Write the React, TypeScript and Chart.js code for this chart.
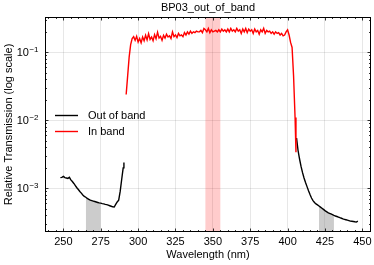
import React, { useEffect, useRef } from "react";
import { Chart, registerables } from "chart.js";

Chart.register(...registerables);

const TITLE = "BP03_out_of_band";
const X_LABEL = "Wavelength (nm)";
const Y_LABEL = "Relative Transmission (log scale)";
const LEGEND_LABELS = ["Out of band", "In band"];

const X_TICKS = [250, 275, 300, 325, 350, 375, 400, 425, 450];
const Y_TICKS = [1e-3, 1e-2, 1e-1];
const Y_TICK_EXPONENTS = ["\u22123", "\u22122", "\u22121"];
const X_MIN = 237.7;
const X_MAX = 455.8;
const Y_MIN = 2.28e-4;
const Y_MAX = 0.331;

const IN_BAND_SPAN = [345, 355];
const SHADED_RANGES = [
  [265, 275],
  [421, 431],
];

// Out of band, short-wavelength side
const OUT_LEFT_NM = [
  248, 249, 250, 251, 252, 253, 254, 255, 256, 257, 258, 259, 260, 261, 262, 263, 264, 265, 266, 267,
  268, 269, 270, 271, 272, 273, 274, 275, 276, 277, 278, 279, 280, 281, 282, 283, 284, 285, 286, 287,
  288, 289, 290, 290.5,
];
const OUT_LEFT_T = [
  1.44e-3, 1.45e-3, 1.5e-3, 1.44e-3, 1.42e-3, 1.4e-3, 1.45e-3, 1.33e-3, 1.26e-3, 1.18e-3, 1.1e-3,
  1.02e-3, 9.6e-4, 9.0e-4, 8.5e-4, 8.0e-4, 7.6e-4, 7.4e-4, 7.1e-4, 6.9e-4, 6.7e-4, 6.6e-4, 6.5e-4,
  6.4e-4, 6.3e-4, 6.2e-4, 6.1e-4, 6.05e-4, 5.95e-4, 5.9e-4, 5.8e-4, 5.75e-4, 5.65e-4, 5.55e-4,
  5.45e-4, 5.35e-4, 5.3e-4, 5.8e-4, 6.3e-4, 6.7e-4, 9.0e-4, 1.35e-3, 2.0e-3, 2.4e-3,
];

// Out of band, long-wavelength side
const OUT_RIGHT_NM = [
  406, 407, 408, 409, 410, 411, 412, 413, 414, 415, 416, 417, 418, 419, 420, 421, 422, 423, 424, 425,
  426, 427, 428, 429, 430, 431, 432, 433, 434, 435, 436, 437, 438, 439, 440, 441, 442, 443, 444, 445,
  446, 447,
];
const OUT_RIGHT_T = [
  5.5e-3, 3.6e-3, 2.7e-3, 2.1e-3, 1.7e-3, 1.42e-3, 1.22e-3, 1.06e-3, 9.2e-4, 8.1e-4, 7.2e-4, 6.6e-4,
  6.2e-4, 5.9e-4, 5.7e-4, 5.5e-4, 5.3e-4, 5.1e-4, 4.9e-4, 4.7e-4, 4.55e-4, 4.4e-4, 4.3e-4, 4.2e-4,
  4.1e-4, 4.0e-4, 3.92e-4, 3.85e-4, 3.78e-4, 3.7e-4, 3.63e-4, 3.55e-4, 3.5e-4, 3.45e-4, 3.4e-4,
  3.35e-4, 3.3e-4, 3.28e-4, 3.25e-4, 3.22e-4, 3.2e-4, 3.3e-4,
];

// In band
const IN_NM = [
  292, 293, 294, 295, 296, 297, 298, 299, 300, 301, 302, 303, 304, 305, 306, 307, 308, 309, 310, 311,
  312, 313, 314, 315, 316, 317, 318, 319, 320, 321, 322, 323, 324, 325, 326, 327, 328, 329, 330, 331,
  332, 333, 334, 335, 336, 337, 338, 339, 340, 341, 342, 343, 344, 345, 346, 347, 348, 349, 350, 351,
  352, 353, 354, 355, 356, 357, 358, 359, 360, 361, 362, 363, 364, 365, 366, 367, 368, 369, 370, 371,
  372, 373, 374, 375, 376, 377, 378, 379, 380, 381, 382, 383, 384, 385, 386, 387, 388, 389, 390, 391,
  392, 393, 394, 395, 396, 397, 398, 399, 400, 401, 402, 403, 404, 405, 405.6,
];
const IN_T = [
  0.024, 0.045, 0.085, 0.13, 0.16, 0.17, 0.15, 0.172, 0.142, 0.16, 0.138, 0.168, 0.148, 0.178, 0.152,
  0.188, 0.155, 0.168, 0.148, 0.182, 0.158, 0.198, 0.162, 0.172, 0.15, 0.178, 0.162, 0.185, 0.168,
  0.175, 0.16, 0.2, 0.17, 0.18, 0.165, 0.19, 0.175, 0.18, 0.17, 0.195, 0.18, 0.2, 0.185, 0.205, 0.19,
  0.2, 0.195, 0.205, 0.2, 0.2, 0.21, 0.195, 0.225, 0.215, 0.2, 0.225, 0.195, 0.215, 0.2, 0.205, 0.21,
  0.2, 0.215, 0.2, 0.22, 0.205, 0.215, 0.2, 0.22, 0.2, 0.225, 0.205, 0.215, 0.2, 0.225, 0.205, 0.215,
  0.19, 0.22, 0.2, 0.225, 0.195, 0.22, 0.205, 0.215, 0.19, 0.22, 0.2, 0.21, 0.185, 0.215, 0.2, 0.225,
  0.19, 0.21, 0.2, 0.205, 0.19, 0.2, 0.185, 0.2, 0.19, 0.195, 0.18, 0.19, 0.175, 0.18, 0.2, 0.215,
  0.18, 0.14, 0.118, 0.045, 0.011, 0.0034,
];

const FONT = '"Liberation Sans", Arial, Helvetica, sans-serif';

const toPoints = (xs: number[], ys: number[]) => xs.map((x, i) => ({ x, y: ys[i] }));

const decorPlugin = {
  id: "decor",
  beforeDatasetsDraw(chart: any) {
    const { ctx, chartArea: a, scales } = chart;
    const x = scales.x;
    const x0 = x.getPixelForValue(IN_BAND_SPAN[0]);
    const x1 = x.getPixelForValue(IN_BAND_SPAN[1]);
    ctx.save();
    ctx.fillStyle = "rgba(255,0,0,0.2)";
    ctx.fillRect(x0, a.top, x1 - x0, a.bottom - a.top);
    ctx.restore();
  },
  afterDraw(chart: any) {
    const { ctx, chartArea: a, scales } = chart;
    const xs = scales.x;
    const ys = scales.y;
    ctx.save();
    // border
    ctx.strokeStyle = "#000";
    ctx.lineWidth = 1;
    ctx.strokeRect(Math.round(a.left) + 0.5, Math.round(a.top) + 0.5, Math.round(a.right - a.left) - 1, Math.round(a.bottom - a.top) - 1);

    // ticks
    ctx.lineWidth = 0.8;
    const drawX = (v: number, len: number) => {
      const p = Math.round(xs.getPixelForValue(v)) + 0.5;
      ctx.beginPath();
      ctx.moveTo(p, a.bottom);
      ctx.lineTo(p, a.bottom - len);
      ctx.moveTo(p, a.top);
      ctx.lineTo(p, a.top + len);
      ctx.stroke();
    };
    const drawY = (v: number, len: number) => {
      const p = Math.round(ys.getPixelForValue(v)) + 0.5;
      ctx.beginPath();
      ctx.moveTo(a.left, p);
      ctx.lineTo(a.left + len, p);
      ctx.moveTo(a.right, p);
      ctx.lineTo(a.right - len, p);
      ctx.stroke();
    };
    for (let v = 240; v <= X_MAX; v += 5) {
      drawX(v, v % 25 === 0 ? 3.5 : 2);
    }
    for (let d = -4; d <= 0; d++) {
      for (let k = 1; k <= 9; k++) {
        const v = k * Math.pow(10, d);
        if (v < Y_MIN || v > Y_MAX) continue;
        drawY(v, k === 1 ? 3.5 : 2);
      }
    }

    // tick labels
    ctx.fillStyle = "#000";
    ctx.font = `11px ${FONT}`;
    ctx.textAlign = "center";
    ctx.textBaseline = "middle";
    X_TICKS.forEach((v) => {
      ctx.fillText(String(v), xs.getPixelForValue(v), a.bottom + 9.5);
    });
    Y_TICKS.forEach((v, i) => {
      const p = ys.getPixelForValue(v);
      ctx.font = `8px ${FONT}`;
      ctx.textAlign = "right";
      ctx.textBaseline = "alphabetic";
      const ex = Y_TICK_EXPONENTS[i];
      const right = a.left - 6.5;
      ctx.fillText(ex, right, p - 0.5);
      const ew = ctx.measureText(ex).width;
      ctx.font = `11px ${FONT}`;
      ctx.fillText("10", right - ew - 0.5, p + 4);
    });

    // axis titles
    ctx.font = `11px ${FONT}`;
    ctx.textAlign = "center";
    ctx.textBaseline = "middle";
    ctx.fillText(X_LABEL, (a.left + a.right) / 2, 255);
    ctx.save();
    ctx.translate(9, (a.top + a.bottom) / 2);
    ctx.rotate(-Math.PI / 2);
    ctx.fillText(Y_LABEL, 0, 0);
    ctx.restore();
    ctx.fillText(TITLE, (a.left + a.right) / 2, 7.5);

    // legend
    const colors = ["#000000", "#ff0000"];
    const rows = [115.5, 131.5];
    LEGEND_LABELS.forEach((label, i) => {
      ctx.strokeStyle = colors[i];
      ctx.lineWidth = 1.4;
      ctx.beginPath();
      ctx.moveTo(55, rows[i]);
      ctx.lineTo(78, rows[i]);
      ctx.stroke();
      ctx.textAlign = "left";
      ctx.fillStyle = "#000";
      ctx.fillText(label, 88, rows[i]);
    });
    ctx.restore();
  },
};

export default function App() {
  const canvasRef = useRef<HTMLCanvasElement | null>(null);

  useEffect(() => {
    if (!canvasRef.current) return;
    const left = toPoints(OUT_LEFT_NM, OUT_LEFT_T);
    const right = toPoints(OUT_RIGHT_NM, OUT_RIGHT_T);
    const all = left.concat(right);
    const fills = SHADED_RANGES.map(([lo, hi]) => ({
      data: all.filter((p) => p.x >= lo && p.x <= hi),
      borderWidth: 0,
      pointRadius: 0,
      fill: "start",
      backgroundColor: "rgba(128,128,128,0.4)",
      order: 3,
    }));
    const lineBase = { pointRadius: 0, borderWidth: 1.4, tension: 0, fill: false };
    const chart = new Chart(canvasRef.current, {
      type: "line",
      data: {
        datasets: [
          { ...lineBase, label: "In band", data: toPoints(IN_NM, IN_T), borderColor: "#ff0000", order: 0 },
          { ...lineBase, label: "Out of band", data: left, borderColor: "#000000", order: 1 },
          { ...lineBase, label: "Out of band", data: right, borderColor: "#000000", order: 1 },
          ...fills,
        ] as any,
      },
      options: {
        animation: false,
        responsive: false,
        maintainAspectRatio: false,
        devicePixelRatio: 1,
        layout: { padding: { top: 17, right: 3, left: 0, bottom: 0 } },
        plugins: { legend: { display: false }, title: { display: false }, tooltip: { enabled: false } },
        scales: {
          x: {
            type: "linear",
            min: X_MIN,
            max: X_MAX,
            afterBuildTicks: (s: any) => {
              s.ticks = X_TICKS.map((value) => ({ value }));
            },
            afterFit: (s: any) => {
              s.height = 33;
            },
            ticks: { display: false },
            grid: { color: "rgba(0,0,0,0.12)", lineWidth: 0.8, drawTicks: false },
            border: { display: false },
          },
          y: {
            type: "logarithmic",
            min: Y_MIN,
            max: Y_MAX,
            afterBuildTicks: (s: any) => {
              s.ticks = Y_TICKS.map((value) => ({ value }));
            },
            afterFit: (s: any) => {
              s.width = 45;
            },
            ticks: { display: false },
            grid: { color: "rgba(0,0,0,0.12)", lineWidth: 0.8, drawTicks: false },
            border: { display: false },
          },
        },
      } as any,
      plugins: [decorPlugin],
    });
    return () => chart.destroy();
  }, []);

  return (
    <div style={{ position: "absolute", left: 0, top: 0, width: 374, height: 265, background: "#fff" }}>
      <canvas ref={canvasRef} width={374} height={265} style={{ display: "block" }} />
    </div>
  );
}
